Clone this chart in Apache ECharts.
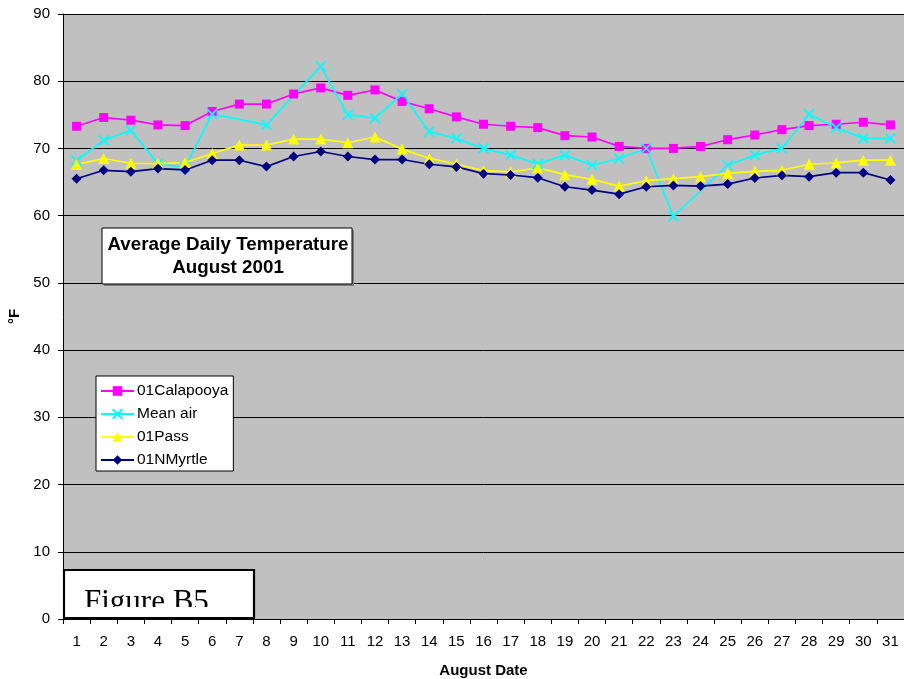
<!DOCTYPE html>
<html>
<head>
<meta charset="utf-8">
<script src="https://cdn.jsdelivr.net/npm/echarts@6/dist/echarts.min.js"></script>
<style>
  html, body { margin: 0; padding: 0; background: #ffffff; }
  #chart { width: 904px; height: 679px; }
</style>
</head>
<body>
<div id="chart"></div>
<script>
// August dates (category axis ticks)
const days = ['1','2','3','4','5','6','7','8','9','10','11','12','13','14','15','16',
              '17','18','19','20','21','22','23','24','25','26','27','28','29','30','31'];

// Average daily temperatures, °F
const calapooya = [73.3, 74.6, 74.2, 73.5, 73.4, 75.5, 76.6, 76.6, 78.1, 79.0, 77.9, 78.7, 77.0, 75.9, 74.7, 73.6,
                   73.3, 73.1, 71.9, 71.7, 70.3, 70.0, 70.0, 70.3, 71.3, 72.0, 72.8, 73.4, 73.6, 73.9, 73.5];
const meanAir   = [68.2, 71.2, 72.7, 67.7, 67.2, 75.1, null, 73.5, null, 82.2, 75.0, 74.5, 78.1, 72.5, 71.5, 70.0,
                   69.0, 67.7, 69.0, 67.5, 68.5, 70.0, 59.9, null, 67.5, 69.0, 70.0, 75.1, 73.1, 71.5, 71.5];
const pass      = [67.6, 68.5, 67.8, 67.75, 67.9, 69.25, 70.5, 70.5, 71.4, 71.4, 70.85, 71.7, 69.9, 68.55, 67.65, 66.7,
                   66.5, 67.1, 66.1, 65.4, 64.4, 65.2, 65.5, 65.8, 66.3, 66.6, 66.75, 67.65, 67.85, 68.25, 68.25];
const nMyrtle   = [65.5, 66.75, 66.55, 67.0, 66.8, 68.25, 68.25, 67.3, 68.8, 69.55, 68.8, 68.35, 68.35, 67.65, 67.25, 66.25,
                   66.05, 65.65, 64.3, 63.8, 63.2, 64.3, 64.5, 64.4, 64.7, 65.6, 66.0, 65.8, 66.4, 66.4, 65.3];

// Y axis ticks
const yMin = 0, yMax = 90, yStep = 10;

const FONT = '"Liberation Sans", Arial, sans-serif';
const SERIF = '"Liberation Serif", "Times New Roman", serif';

const chart = echarts.init(document.getElementById('chart'), null, { renderer: 'canvas' });

function lineSeries(name, data, color, symbol, size, extra) {
  return Object.assign({
    name: name,
    type: 'line',
    data: data,
    connectNulls: true,
    symbol: symbol,
    symbolSize: size,
    showAllSymbol: true,
    lineStyle: { color: color, width: 1.7 },
    itemStyle: { color: color },
    emphasis: { disabled: true },
    animation: false
  }, extra || {});
}

const option = {
  backgroundColor: '#ffffff',
  animation: false,
  textStyle: { fontFamily: FONT },
  grid: {
    left: 63, top: 14, right: 0, bottom: 60,
    outerBoundsMode: 'none',
    containLabel: false,
    show: true, backgroundColor: '#c0c0c0', borderWidth: 0
  },
  xAxis: {
    type: 'category',
    data: days,
    boundaryGap: true,
    name: 'August Date',
    nameLocation: 'middle',
    nameGap: 44,
    nameTextStyle: { fontFamily: FONT, fontSize: 15, fontWeight: 'bold', color: '#000' },
    axisLine: { lineStyle: { color: '#000', width: 1 } },
    axisTick: { show: true, interval: 0, alignWithLabel: false, length: 5, lineStyle: { color: '#000' } },
    axisLabel: { interval: 0, margin: 15, fontFamily: FONT, fontSize: 15, color: '#000' },
    splitLine: { show: false }
  },
  yAxis: {
    type: 'value',
    min: yMin, max: yMax, interval: yStep,
    name: '°F',
    nameLocation: 'middle',
    nameGap: 39,
    nameRotate: 90,
    nameTextStyle: { fontFamily: FONT, fontSize: 15, fontWeight: 'bold', color: '#000' },
    axisLine: { show: true, lineStyle: { color: '#000', width: 1 } },
    axisTick: { show: true, length: 5, lineStyle: { color: '#000' } },
    axisLabel: { margin: 13, fontFamily: FONT, fontSize: 15, color: '#000' },
    splitLine: { show: true, lineStyle: { color: '#000', width: 1 } }
  },
  legend: {
    orient: 'vertical',
    left: 96, top: 376,
    backgroundColor: '#ffffff',
    borderColor: '#000', borderWidth: 1,
    padding: [7, 5, 3, 4],
    itemWidth: 33, itemHeight: 12,
    itemGap: 7,
    textStyle: { fontFamily: FONT, fontSize: 15.5, color: '#000', padding: [0, 0, 0, -2] },
    selectedMode: false,
    data: ['01Calapooya', 'Mean air', '01Pass', '01NMyrtle']
  },
  graphic: [
    // chart title box with drop shadow
    { type: 'rect', shape: { x: 104, y: 230, width: 250, height: 56 }, style: { fill: '#7f7f7f' }, z: 10 },
    { type: 'rect', shape: { x: 102, y: 228, width: 250, height: 56 }, style: { fill: '#ffffff', stroke: '#000', lineWidth: 1 }, z: 11 },
    { type: 'text', x: 228, y: 245, style: { text: 'Average Daily Temperature', fill: '#000', font: 'bold 18.8px ' + FONT, textAlign: 'center', textVerticalAlign: 'middle' }, z: 12 },
    { type: 'text', x: 228, y: 268, style: { text: 'August 2001', fill: '#000', font: 'bold 18.8px ' + FONT, textAlign: 'center', textVerticalAlign: 'middle' }, z: 12 },
    // figure caption box (caption text clipped by its frame)
    { type: 'rect', shape: { x: 64, y: 570, width: 190, height: 48 }, style: { fill: '#ffffff' }, z: 10 },
    { type: 'text', x: 84, y: 603, style: { text: 'Figure B5', fill: '#000', font: '31px ' + SERIF, textAlign: 'left', textVerticalAlign: 'middle' }, z: 11 },
    { type: 'rect', shape: { x: 65, y: 607, width: 188, height: 11 }, style: { fill: '#ffffff' }, z: 12 },
    { type: 'rect', shape: { x: 64, y: 570, width: 190, height: 48 }, style: { fill: 'none', stroke: '#000', lineWidth: 2.2 }, z: 13 }
  ],
  series: [
    lineSeries('01Calapooya', calapooya, '#ff00ff', 'rect', 9),
    lineSeries('Mean air', meanAir, '#00ffff', 'path://M0,0L10,10M10,0L0,10', 10, {
      itemStyle: { color: 'rgba(0,0,0,0)', borderColor: '#00ffff', borderWidth: 1.7 }
    }),
    lineSeries('01Pass', pass, '#ffff00', 'triangle', 11),
    lineSeries('01NMyrtle', nMyrtle, '#000080', 'diamond', 10)
  ]
};

chart.setOption(option);
</script>
</body>
</html>
